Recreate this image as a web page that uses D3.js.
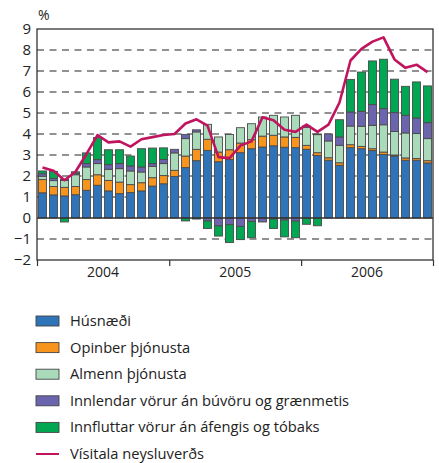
<!DOCTYPE html>
<html><head><meta charset="utf-8">
<script src="https://cdn.jsdelivr.net/npm/d3@7"></script>
<style>body{margin:0;background:#fff;} svg{display:block;font-family:"Open Sans",sans-serif;}</style>
</head><body>
<svg id="chart" width="439" height="463"></svg>
<script>
const months = d3.range(36).map(i => new Date(2004 + Math.floor(i/12), i%12, 1));
const years = ["2004","2005","2006"];
const yTicks = [-2,-1,0,1,2,3,4,5,6,7,8,9];
const seriesNames = ["Húsnæði","Opinber þjónusta","Almenn þjónusta","Innlendar vörur án búvöru og grænmetis","Innfluttar vörur án áfengis og tóbaks"];
const lineName = "Vísitala neysluverðs";
const husnaedi = [1.2,1.1,1.05,1.11,1.32,1.56,1.29,1.16,1.21,1.29,1.52,1.63, 1.98,2.4,2.73,3.22,2.68,2.78,3.11,3.3,3.38,3.44,3.37,3.35, 3.27,2.98,2.75,2.51,3.35,3.3,3.21,3.02,2.95,2.75,2.75,2.62];
const opinber = [0.63,0.4,0.41,0.39,0.51,0.5,0.5,0.55,0.38,0.39,0.4,0.39, 0.29,0.55,0.54,0.53,0.46,0.47,0.46,0.43,0.52,0.5,0.49,0.49, 0.19,0.13,0.12,0.12,0.14,0.11,0.09,0.12,0.05,0.11,0.08,0.11];
const almenn = [0.16,0.28,0.33,0.56,0.6,0.53,0.53,0.64,0.65,0.51,0.54,0.57, 0.83,0.83,0.83,0.71,0.72,0.73,0.73,0.76,0.91,0.95,0.95,1.05, 0.86,0.86,0.8,0.83,0.89,0.96,1.11,1.3,1.12,1.19,1.19,1.05];
const innlendar = [0.12,0.1,0.06,0.07,0.16,0.19,0.22,0.24,0.24,0.24,0.13,0.2, 0.17,0.2,0.1,-0.14,-0.38,-0.32,-0.4,-0.16,-0.19,-0.05,-0.1,-0.15, 0.06,0.03,0.33,0.4,0.67,0.71,0.99,0.77,0.9,0.84,0.74,0.76];
const innfluttar = [0.13,0.34,-0.19,0.07,0.51,1.05,0.71,0.66,0.47,0.87,0.74,0.55, 0,-0.14,-0.05,-0.36,-0.48,-0.85,-0.63,-0.78,0,-0.45,-0.8,-0.79, -0.3,-0.37,0,0.82,1.55,1.87,2.08,2.35,1.59,1.38,1.72,1.75];
const visitala = [2.4,2.25,1.8,2.2,3.05,3.95,3.6,3.65,3.4,3.75,3.85,3.95, 4.0,4.5,4.7,4.4,2.9,2.85,3.45,3.65,4.8,4.65,4.2,4.1, 4.45,4.1,4.45,5.5,7.5,8.05,8.4,8.6,7.55,7.15,7.3,6.95];
const colors = ["#2f74b9","#f7941d","#a9dbbb","#6b64ae","#00a651"];
const lineColor = "#c0145f";

const seriesArrays = [husnaedi, opinber, almenn, innlendar, innfluttar];
const table = months.map((m, i) => {
  const row = {i};
  seriesNames.forEach((n, k) => row[n] = seriesArrays[k][i]);
  return row;
});

const svg = d3.select("#chart");
const L = 37, R = 433, T = 29, B = 260;
const x = d3.scaleBand().domain(d3.range(36)).range([L, R]).paddingInner(0.27).paddingOuter(0.135);
const y = d3.scaleLinear().domain([-2, 9]).range([B, T]);
const xt = d3.scaleTime().domain([new Date(2004,0,1), new Date(2007,0,1)]).range([L, R]);

// gridlines
svg.append("g").selectAll("line").data(yTicks.filter(v => v !== 0 && v !== 9 && v !== -2)).join("line")
  .attr("x1", L).attr("x2", R).attr("y1", d => y(d)).attr("y2", d => y(d))
  .attr("stroke", "#6d6d6d").attr("stroke-width", 1.4).attr("stroke-dasharray", "7,5.5");

// bars
const stack = d3.stack().keys(seriesNames).offset(d3.stackOffsetDiverging);
const stacked = stack(table);
svg.append("g").selectAll("g").data(stacked).join("g")
  .attr("fill", (d, k) => colors[k])
  .selectAll("rect").data(d => d).join("rect")
  .attr("x", d => x(d.data.i)).attr("width", x.bandwidth())
  .attr("y", d => y(Math.max(d[0], d[1])))
  .attr("height", d => Math.abs(y(d[0]) - y(d[1])))
  .attr("stroke", "#4a4a4a").attr("stroke-width", 0.9)
  .attr("stroke-opacity", d => Math.abs(d[1]-d[0]) > 0.001 ? 1 : 0);

// zero line
svg.append("line").attr("x1", L).attr("x2", R).attr("y1", y(0)).attr("y2", y(0))
  .attr("stroke", "#333").attr("stroke-width", 1.6);

// CPI line
svg.append("path").datum(visitala)
  .attr("fill", "none").attr("stroke", lineColor).attr("stroke-width", 2.6).attr("stroke-linejoin", "round")
  .attr("d", d3.line().x((d, i) => x(i) + x.bandwidth()/2).y(d => y(d)));

// frame
svg.append("rect").attr("x", L).attr("y", T).attr("width", R - L).attr("height", B - T)
  .attr("fill", "none").attr("stroke", "#333").attr("stroke-width", 1.3);

// left axis
const yAxis = d3.axisLeft(y).tickValues(yTicks).tickSize(0).tickPadding(6).tickFormat(d3.format("d"));
const ga = svg.append("g").attr("transform", `translate(${L},0)`).call(yAxis);
ga.select(".domain").remove();
ga.selectAll("text").attr("font-size", 15).attr("fill", "#222").attr("font-family", "Open Sans, sans-serif");

svg.append("text").attr("x", L + 1).attr("y", 20).attr("font-size", 14).attr("fill", "#222").text("%");

// bottom axis with year dividers
const xAxis = d3.axisBottom(xt).tickValues([new Date(2004,0,1),new Date(2005,0,1),new Date(2006,0,1),new Date(2007,0,1)])
  .tickSize(6).tickFormat("");
const gx = svg.append("g").attr("transform", `translate(0,${B})`).call(xAxis);
gx.select(".domain").remove();
gx.selectAll("line").attr("stroke", "#333").attr("stroke-width", 1.2);
svg.append("g").selectAll("text").data(years).join("text")
  .attr("x", d => (xt(new Date(+d,0,1)) + xt(new Date(+d+1,0,1))) / 2)
  .attr("y", 277).attr("text-anchor", "middle").attr("font-size", 14).attr("fill", "#222").text(d => d);

// legend
const lg = svg.append("g");
const rows = seriesNames.concat([lineName]);
rows.forEach((n, k) => {
  const cy = 321 + k * 26.6;
  if (k < 5) {
    lg.append("rect").attr("x", 36).attr("y", cy - 5).attr("width", 23).attr("height", 10)
      .attr("fill", colors[k]).attr("stroke", "#444").attr("stroke-width", 0.9);
  } else {
    lg.append("line").attr("x1", 36).attr("x2", 59).attr("y1", cy).attr("y2", cy)
      .attr("stroke", lineColor).attr("stroke-width", 2);
  }
  lg.append("text").attr("x", 70).attr("y", cy + 5).attr("font-size", 14.7).attr("fill", "#222").text(n);
});
</script>
</body></html>
